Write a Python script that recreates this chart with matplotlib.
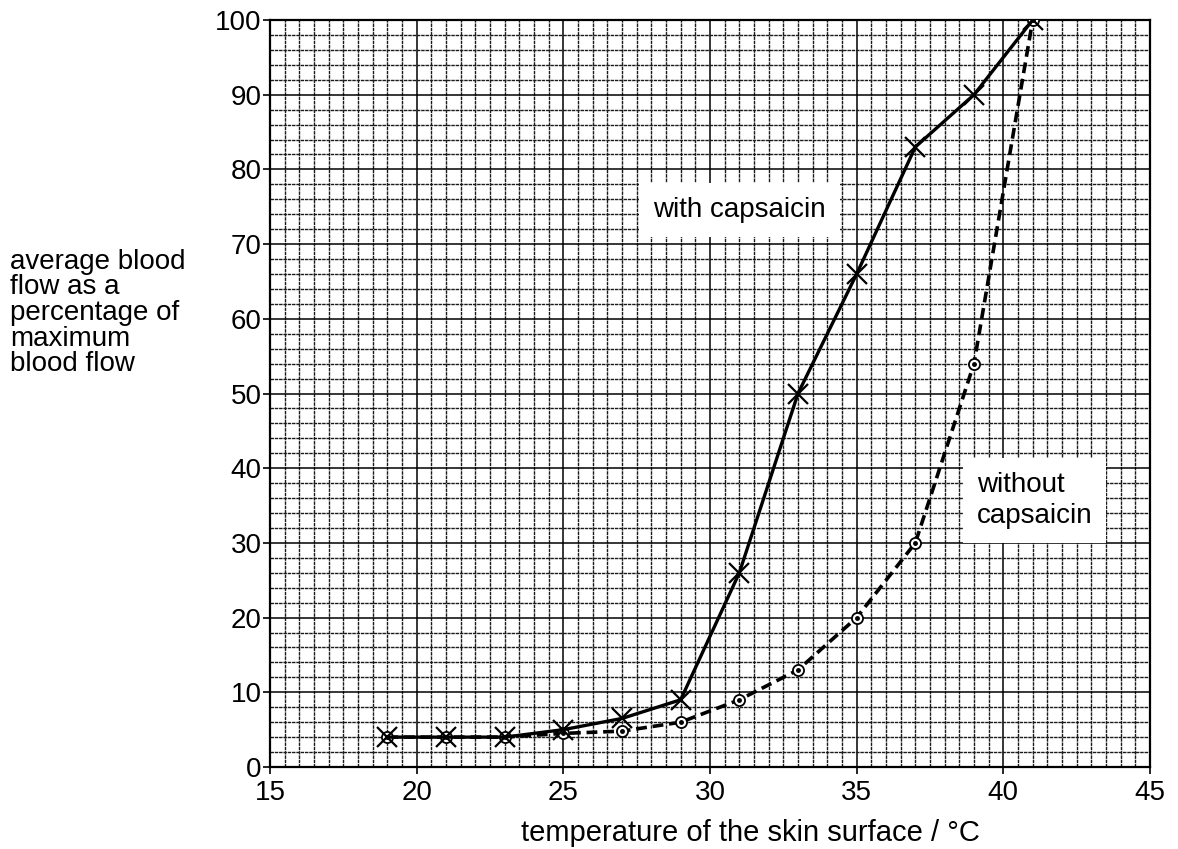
import numpy as np
import matplotlib.pyplot as plt
from matplotlib.ticker import MultipleLocator

plt.rcParams["font.family"] = ["Liberation Sans", "DejaVu Sans"]

# data
temperature = [19, 21, 23, 25, 27, 29, 31, 33, 35, 37, 39, 41]
with_capsaicin = [4, 4, 4, 5, 6.5, 9, 26, 50, 66, 83, 90, 100]
without_capsaicin = [4, 4, 4, 4.5, 4.8, 6, 9, 13, 20, 30, 54, 100]

fig = plt.figure(figsize=(11.78, 8.49), dpi=100, facecolor="w")
ax = fig.add_axes([270 / 1178, 82 / 849, 880 / 1178, 747 / 849])

ax.set_xlim(15, 45)
ax.set_ylim(0, 100)

# graph-paper grid (all lines about the same weight)
ax.xaxis.set_major_locator(MultipleLocator(5))
ax.yaxis.set_major_locator(MultipleLocator(10))
ax.xaxis.set_minor_locator(MultipleLocator(0.5))
ax.yaxis.set_minor_locator(MultipleLocator(2))
ax.grid(which="minor", color="0.1", lw=1.0, ls=(0, (2.5, 0.6)))
ax.grid(which="major", color="black", lw=1.1)
ax.set_axisbelow(True)

ax.tick_params(which="major", direction="out", length=5, width=1.2,
               labelsize=20)
ax.tick_params(axis="y", pad=1)
ax.tick_params(axis="x", pad=4)
ax.tick_params(which="minor", length=0)
for s in ax.spines.values():
    s.set_linewidth(1.6)

# series
ax.plot(temperature, without_capsaicin, color="black", lw=2.6,
        ls=(0, (3, 1.6)), marker="o", ms=8, mfc="white", mec="black",
        mew=1.3, zorder=3)
ax.plot(temperature, without_capsaicin, ls="none", marker="o", ms=2.5,
        color="black", zorder=3.5)
ax.plot(temperature, with_capsaicin, color="black", lw=2.4,
        marker="x", ms=14, mew=1.6, zorder=4)

# line labels on white patches
ax.text(31.0, 74.6, "with capsaicin", fontsize=20, ha="center", va="center",
        bbox=dict(facecolor="white", edgecolor="none", boxstyle="square,pad=0.5"),
        zorder=2)
ax.text(39.1, 35.7, "without\ncapsaicin", fontsize=20, ha="left", va="center",
        linespacing=1.25,
        bbox=dict(facecolor="white", edgecolor="none", boxstyle="square,pad=0.5"),
        zorder=2)

fig.text(10 / 1178, 1 - 313 / 849,
         "average blood\nflow as a\npercentage of\nmaximum\nblood flow",
         fontsize=20, ha="left", va="center", linespacing=0.98)
fig.text(750 / 1178, 1 - 833 / 849, "temperature of the skin surface / °C",
         fontsize=21, ha="center", va="center")

fig.savefig("out.png", dpi=100, facecolor="w")
